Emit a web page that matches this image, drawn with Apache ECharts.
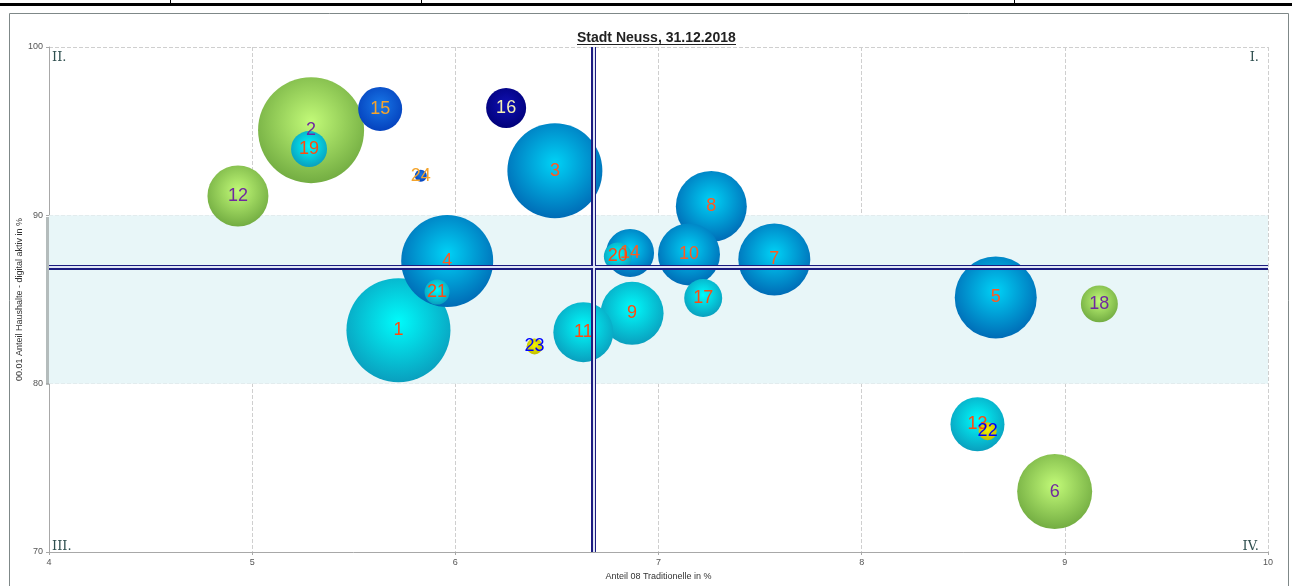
<!DOCTYPE html>
<html>
<head>
<meta charset="utf-8">
<title>Stadt Neuss, 31.12.2018</title>
<script src="https://cdn.jsdelivr.net/npm/echarts@6/dist/echarts.min.js"></script>
<style>
  html, body { margin: 0; padding: 0; background: #fff; }
  #chart { width: 1292px; height: 586px; }
</style>
</head>
<body>
<div id="chart"></div>
<script>
// Nummer der Bubble
var nummern = ['1','2','3','4','5','6','7','8','9','10','11','12','13','14','15','16','17','18','19','20','21','22','23','24'];
// x: Anteil 08 Traditionelle in %
var anteilTraditionelle = [5.72, 5.29, 6.49, 5.96, 8.66, 8.95, 7.57, 7.26, 6.87, 7.15, 6.63, 4.93, 8.57, 6.86, 5.63, 6.25, 7.22, 9.17, 5.28, 6.80, 5.91, 8.62, 6.39, 5.83];
// y: 00.01 Anteil Haushalte - digital aktiv in %
var anteilDigital = [83.18, 95.06, 92.65, 87.29, 85.12, 73.59, 87.38, 90.53, 84.18, 87.68, 83.06, 91.15, 77.59, 87.76, 96.32, 96.38, 85.09, 84.74, 93.94, 87.56, 85.44, 77.18, 82.21, 92.35];
// Bubble-Groesse
var groesse = [2704, 2809, 2256, 2116, 1681, 1406, 1296, 1260, 992, 961, 900, 930, 729, 576, 484, 400, 361, 342, 324, 196, 156, 81, 64, 36];
// Farbgruppe
var gruppe = ['cyan','gruen','blau','blau','blau','gruen','blau','blau','cyan','blau','cyan','gruen','cyan','blau','royal','navy','cyan','gruen','cyan','cyan','cyan','gelb','gelb','royal'];
// Mittelwerte (Fadenkreuz) und Band
var mittelX = 6.68;
var mittelY = 86.92;
var bandVon = 80;
var bandBis = 90;
var xTicks = [4, 10, 1];
var yTicks = [70, 100, 10];

function kugel(innen, aussen) {
  return {
    type: 'radial', x: 0.5, y: 0.42, r: 0.6,
    colorStops: [{ offset: 0, color: innen }, { offset: 1, color: aussen }]
  };
}

var stile = {
  cyan:  { farbe: kugel('#00fbfb', '#0a9cbc'), text: '#ff4a10' },
  blau:  { farbe: kugel('#00d2f6', '#0068b4'), text: '#ff5a20' },
  gruen: { farbe: kugel('#c2fa78', '#70aa40'), text: '#7028a0' },
  royal: { farbe: kugel('#1878e8', '#0440bc'), text: '#f4a42c' },
  navy:  { farbe: kugel('#1010b4', '#000078'), text: '#f4f0b4' },
  gelb:  { farbe: kugel('#f4f400', '#c0bc00'), text: '#0000ff' }
};

var daten = [];
for (var i = 0; i < nummern.length; i++) {
  var s = stile[gruppe[i]];
  daten.push({
    name: nummern[i],
    value: [anteilTraditionelle[i], anteilDigital[i], groesse[i]],
    itemStyle: { color: s.farbe },
    label: { color: s.text }
  });
}

var chart = echarts.init(document.getElementById('chart'));

var quadrant = { fontFamily: 'DejaVu Serif', fontSize: 13, fill: '#2f4f4f' };

var option = {
  backgroundColor: '#fff',
  animation: false,
  title: {
    text: 'Stadt Neuss, 31.12.2018',
    left: 577,
    top: 31,
    padding: 0,
    textStyle: { fontFamily: 'Liberation Sans', fontWeight: 'bold', fontSize: 14, color: '#222' }
  },
  grid: { left: 49, right: 24, top: 47, bottom: 29 },
  xAxis: {
    type: 'value',
    min: xTicks[0], max: xTicks[1], interval: xTicks[2],
    name: 'Anteil 08 Traditionelle in %',
    nameLocation: 'middle',
    nameGap: 20,
    nameTextStyle: { fontFamily: 'Liberation Sans', fontSize: 9, color: '#333' },
    axisLine: { lineStyle: { color: '#a8a8a8' } },
    axisTick: { show: true, length: 3, lineStyle: { color: '#a8a8a8' } },
    axisLabel: { fontFamily: 'Liberation Sans', fontSize: 9, color: '#555', margin: 6 },
    splitLine: { lineStyle: { color: '#cfcfcf', type: 'dashed' } }
  },
  yAxis: {
    type: 'value',
    min: yTicks[0], max: yTicks[1], interval: yTicks[2],
    name: '00.01 Anteil Haushalte - digital aktiv in %',
    nameLocation: 'middle',
    nameGap: 25,
    nameMoveOverlap: false,
    nameTextStyle: { fontFamily: 'Liberation Sans', fontSize: 9, color: '#333' },
    axisLine: { show: true, lineStyle: { color: '#a8a8a8' } },
    axisTick: { show: true, length: 3, lineStyle: { color: '#a8a8a8' } },
    axisLabel: { fontFamily: 'Liberation Sans', fontSize: 9, color: '#555', margin: 6 },
    splitLine: { lineStyle: { color: '#cfcfcf', type: 'dashed' } }
  },
  graphic: [
    // Tabellenrand oben
    { type: 'rect', shape: { x: 0, y: 3, width: 1292, height: 3 }, style: { fill: '#000' } },
    { type: 'line', shape: { x1: 170.5, y1: 0, x2: 170.5, y2: 4 }, style: { stroke: '#000', lineWidth: 1 } },
    { type: 'line', shape: { x1: 421.5, y1: 0, x2: 421.5, y2: 4 }, style: { stroke: '#000', lineWidth: 1 } },
    { type: 'line', shape: { x1: 1014.5, y1: 0, x2: 1014.5, y2: 4 }, style: { stroke: '#000', lineWidth: 1 } },
    // Rahmen
    { type: 'rect', shape: { x: 9.5, y: 13.5, width: 1279, height: 600 }, style: { fill: 'none', stroke: '#7f8888', lineWidth: 1 } },
    // Unterstreichung Titel
    { type: 'line', shape: { x1: 577, y1: 44.5, x2: 736, y2: 44.5 }, style: { stroke: '#222', lineWidth: 1 } },
    // linke Wand im Band
    { type: 'rect', shape: { x: 46, y: 217, width: 3, height: 168 }, style: { fill: '#b4bcbc' } },
    // Quadranten
    { type: 'text', left: 52, top: 51, style: Object.assign({ text: 'II.' }, quadrant) },
    { type: 'text', right: 33, top: 51, style: Object.assign({ text: 'I.' }, quadrant) },
    { type: 'text', left: 52, top: 540, style: Object.assign({ text: 'III.' }, quadrant) },
    { type: 'text', right: 33, top: 540, style: Object.assign({ text: 'IV.' }, quadrant) }
  ],
  series: [{
    type: 'scatter',
    data: daten,
    symbolSize: function (val) {
      return 2 * Math.sqrt(val[2]);
    },
    itemStyle: { opacity: 1 },
    label: {
      show: true,
      position: 'inside',
      formatter: '{b}',
      fontFamily: 'Liberation Sans',
      fontSize: 18
    },
    markArea: {
      silent: true,
      itemStyle: { color: '#e8f6f8' },
      data: [[{ yAxis: bandVon }, { yAxis: bandBis }]]
    },
    markLine: {
      silent: true,
      symbol: 'none',
      label: { show: false },
      data: [
        { xAxis: mittelX, lineStyle: { color: '#1c1c80', width: 5, type: 'solid' } },
        { yAxis: mittelY, lineStyle: { color: '#1c1c80', width: 5, type: 'solid' } },
        { xAxis: mittelX, lineStyle: { color: '#e0e6f6', width: 2, type: 'solid' } },
        { yAxis: mittelY, lineStyle: { color: '#e0e6f6', width: 2, type: 'solid' } }
      ]
    }
  }]
};

chart.setOption(option);
</script>
</body>
</html>
